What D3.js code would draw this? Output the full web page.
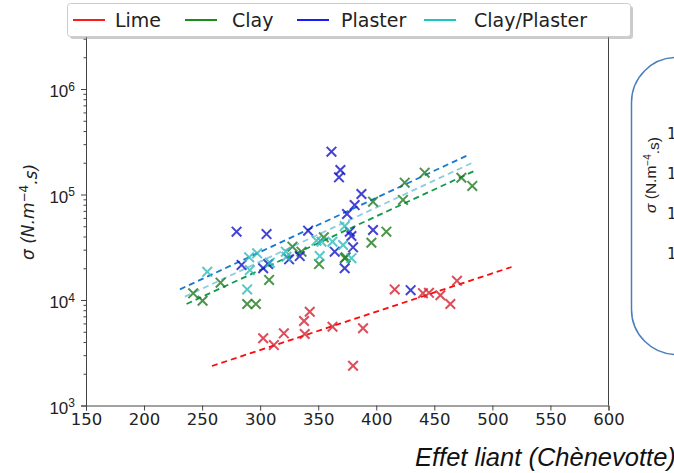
<!DOCTYPE html>
<html><head><meta charset="utf-8">
<script src="https://cdn.jsdelivr.net/npm/d3@7"></script>
<style>body{margin:0;background:#fff;} svg{display:block;font-family:"DejaVu Sans",sans-serif;}</style>
</head><body><svg id="c" width="674" height="473"></svg>
<script>
// ---------- data ----------
const seriesNames = ["Lime", "Clay", "Plaster", "Clay/Plaster"];
const limeX = [302.6, 311.8, 320.4, 338.4, 337.8, 342.7, 362.3, 388.6, 380.0, 415.9, 440.2, 445.4, 455.2, 463.8, 469.5];
const limeY = [4340, 3740, 4830, 4760, 6320, 7740, 5580, 5400, 2380, 12600, 11600, 11700, 11100, 9160, 15200];
const clayX = [242.3, 250.4, 265.9, 288.8, 296.3, 307.7, 327.8, 335.6, 350.7, 354.8, 373.7, 397.2, 423.0, 424.5, 441.7, 408.7, 395.8, 372.8, 473.3, 482.7];
const clayY = [11560, 9840, 14600, 9160, 9160, 15500, 32000, 28700, 21900, 39300, 25400, 85500, 88800, 129500, 161000, 44400, 34900, 24900, 144200, 120500];
const plasterX = [279.7, 305.5, 361.4, 369.1, 367.9, 387.2, 381.4, 374.8, 341.3, 377.2, 378.6, 397.2, 380.0, 364.2, 372.8, 284.0, 302.6, 306.9, 334.1, 324.9, 429.6];
const plasterY = [44400, 42200, 254500, 170600, 145500, 101100, 79400, 65300, 45400, 44400, 40400, 46100, 31600, 28700, 20000, 21500, 20000, 21900, 26100, 24300, 12400];
const clayPlasterX = [254.4, 288.8, 290.5, 297.4, 291.1, 308.3, 322.1, 322.7, 348.5, 352.8, 351.3, 362.3, 371.4, 372.8, 378.6];
const clayPlasterY = [18500, 12600, 25400, 27700, 19200, 22600, 28700, 25700, 36500, 35700, 26100, 35700, 33200, 50200, 24900];
// fitted trend lines (start / end)
const trendNames = ["Lime", "Plaster", "Clay/Plaster", "Clay"];
const trendX0 = [258.4, 230.9, 235.2, 236.6];
const trendY0 = [2368, 12620, 10750, 9160];
const trendX1 = [516.5, 480.4, 484.7, 486.2];
const trendY1 = [20550, 240400, 204600, 170600];
const xTicks = [150, 200, 250, 300, 350, 400, 450, 500, 550, 600];
const yTicks = [1e3, 1e4, 1e5, 1e6];
const yDomain = [1e3, 3.18e6];
const xDomain = [150, 600];

// ---------- styles ----------
const markerColor = {"Lime": "#d42030", "Clay": "#1f7a1f", "Plaster": "#1414c8", "Clay/Plaster": "#2cbcbc"};
const legendColor = {"Lime": "#ff0000", "Clay": "#008000", "Plaster": "#0000ff", "Clay/Plaster": "#00bfbf"};
const trendColor = {"Lime": "#ff0a0a", "Plaster": "#157ad0", "Clay/Plaster": "#8ccce0", "Clay": "#0f9a4a"};

const svg = d3.select("#c");
const L = 86, R = 608.5, T = 36, B = 405.5;
const x = d3.scaleLinear(xDomain, [L, R]);
const y = d3.scaleLog(yDomain, [B, T]);
const axisColor = "#444";

// trend lines
const trends = trendNames.map((n, i) => ({n, x0: trendX0[i], y0: trendY0[i], x1: trendX1[i], y1: trendY1[i]}));
svg.append("g").selectAll("line").data(trends).join("line")
  .attr("x1", d => x(d.x0)).attr("y1", d => y(d.y0))
  .attr("x2", d => x(d.x1)).attr("y2", d => y(d.y1))
  .attr("stroke", d => trendColor[d.n]).attr("stroke-width", 1.8)
  .attr("stroke-dasharray", "6,4");

// markers
const series = [
  {n: "Lime", xs: limeX, ys: limeY},
  {n: "Clay", xs: clayX, ys: clayY},
  {n: "Plaster", xs: plasterX, ys: plasterY},
  {n: "Clay/Plaster", xs: clayPlasterX, ys: clayPlasterY}
];
const ms = 4.8;
series.forEach(s => {
  const pts = s.xs.map((v, i) => [v, s.ys[i]]);
  svg.append("g").selectAll("path").data(pts).join("path")
    .attr("d", d => {
      const cx = x(d[0]), cy = y(d[1]);
      return `M${cx - ms},${cy - ms}L${cx + ms},${cy + ms}M${cx - ms},${cy + ms}L${cx + ms},${cy - ms}`;
    })
    .attr("stroke", markerColor[s.n]).attr("stroke-width", 2)
    .attr("stroke-opacity", 0.8).attr("fill", "none");
});

// axes
const xAxis = svg.append("g").attr("transform", `translate(0,${B})`)
  .call(d3.axisBottom(x).tickValues(xTicks).tickSize(5).tickPadding(3).tickFormat(d3.format("d")));
xAxis.selectAll("text").attr("font-size", 16.5).attr("fill", "#222").attr("font-family", "DejaVu Sans");
const minorTicks = [];
for (let e = 3; e <= 6; e++) for (let k = 2; k <= 9; k++) { const v = k * Math.pow(10, e); if (v <= yDomain[1]) minorTicks.push(v); }
svg.append("g").attr("transform", `translate(${L},0)`)
  .call(d3.axisLeft(y).tickValues(minorTicks).tickSize(2.5).tickFormat(""))
  .call(g => g.select(".domain").remove());
const yAxis = svg.append("g").attr("transform", `translate(${L},0)`)
  .call(d3.axisLeft(y).tickValues(yTicks).tickSize(5).tickPadding(4).tickFormat(""));
yAxis.selectAll(".tick").append("text")
  .attr("x", -11).attr("dy", "0.45em").attr("text-anchor", "end")
  .attr("fill", "#222").attr("font-size", 17)
  .each(function(d) {
    const t = d3.select(this);
    t.append("tspan").text("10");
    t.append("tspan").attr("dy", "-0.55em").attr("font-size", 12).text(Math.round(Math.log10(d)));
  });
svg.selectAll(".domain, .tick line").attr("stroke", axisColor);
// right spine and top spine
svg.append("line").attr("x1", R).attr("x2", R).attr("y1", T).attr("y2", B).attr("stroke", axisColor);
svg.append("line").attr("x1", L).attr("x2", R).attr("y1", T).attr("y2", T).attr("stroke", axisColor);

// axis titles
const yl = svg.append("text").attr("transform", "translate(34,212) rotate(-90)")
  .attr("text-anchor", "middle").attr("font-size", 17).attr("font-style", "italic").attr("fill", "#222");
yl.append("tspan").text("σ (N.m");
yl.append("tspan").attr("dy", "-0.5em").attr("font-size", 12).attr("font-style", "normal").text("−4");
yl.append("tspan").attr("dy", "0.5em").text(".s)");
svg.append("text").attr("x", 415).attr("y", 466)
  .attr("font-family", "Liberation Sans, Arial, sans-serif").attr("font-style", "italic")
  .attr("font-size", 25.5).attr("fill", "#111").text("Effet liant (Chènevotte)");

// legend
const lg = svg.append("g");
lg.append("rect").attr("x", 70).attr("y", 6).attr("width", 563).attr("height", 33).attr("rx", 3)
  .attr("fill", "#999").attr("opacity", 0.5);
lg.append("rect").attr("x", 67.5).attr("y", 3.5).attr("width", 563).attr("height", 33).attr("rx", 3)
  .attr("fill", "#fff").attr("stroke", "#ccc");
const legX = [73, 185, 297, 424];
const legTextX = [115, 232, 341, 474];
seriesNames.forEach((n, i) => {
  lg.append("line").attr("x1", legX[i]).attr("x2", legX[i] + 32).attr("y1", 20).attr("y2", 20)
    .attr("stroke", legendColor[n]).attr("stroke-width", 1.8);
  lg.append("text").attr("x", legTextX[i]).attr("y", 27).attr("font-size", 19).attr("fill", "#222").text(n);
});

// cropped neighbouring panel
const rp = svg.append("g");
rp.append("rect").attr("x", 631.5).attr("y", 57.5).attr("width", 120).attr("height", 297).attr("rx", 45)
  .attr("fill", "none").attr("stroke", "#4a7ebb").attr("stroke-width", 1.5);
const rl = rp.append("text").attr("transform", "translate(656,175) rotate(-90)")
  .attr("text-anchor", "middle").attr("font-family", "Liberation Sans, Arial, sans-serif")
  .attr("font-size", 15.5).attr("fill", "#222");
rl.append("tspan").attr("font-style", "italic").text("σ");
rl.append("tspan").text(" (N.m");
rl.append("tspan").attr("dy", "-0.5em").attr("font-size", 10).text("−4");
rl.append("tspan").attr("dy", "0.5em").text(".s)");
const rightTickY = [1e6, 1e5, 1e4, 1e3];
const yr = d3.scaleLog([1e3, 1e6], [254, 134]);
rp.selectAll("text.rt").data(rightTickY).join("text").attr("class", "rt")
  .attr("x", 667).attr("y", d => yr(d)).attr("dy", "0.35em")
  .attr("font-size", 15).attr("fill", "#222").text("1");
</script></body></html>
